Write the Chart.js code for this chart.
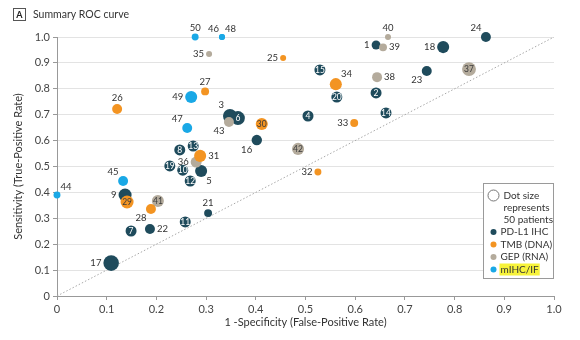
<!DOCTYPE html>
<html>
<head>
<meta charset="utf-8">
<script src="https://cdn.jsdelivr.net/npm/chart.js@4"></script>
<style>
  html, body { margin: 0; padding: 0; background: #fff; }
</style>
</head>
<body>
<canvas id="roc" width="580" height="340"></canvas>
<script>
// axis ticks
const tickValues = [0, 0.1, 0.2, 0.3, 0.4, 0.5, 0.6, 0.7, 0.8, 0.9, 1.0]

// PD-L1 IHC
const pdl1Ids = [1, 2, 3, 4, 5, 6, 7, 8, 9, 10, 11, 12, 13, 14, 15, 16, 17, 18, 19, 20, 21, 22, 23, 24]
const pdl1Fpr = [0.642, 0.642, 0.348, 0.505, 0.290, 0.364, 0.149, 0.247, 0.137, 0.253, 0.258, 0.268, 0.274, 0.662, 0.529, 0.402, 0.109, 0.777, 0.227, 0.563, 0.304, 0.187, 0.744, 0.863]
const pdl1Tpr = [0.969, 0.784, 0.695, 0.695, 0.483, 0.687, 0.251, 0.564, 0.390, 0.486, 0.286, 0.444, 0.579, 0.707, 0.873, 0.602, 0.127, 0.961, 0.502, 0.768, 0.320, 0.259, 0.869, 1.0]
const pdl1N = [33, 50, 80, 50, 60, 80, 50, 50, 70, 50, 50, 50, 50, 50, 50, 45, 100, 60, 50, 50, 26, 41, 41, 41]

// TMB (DNA)
const tmbIds = [25, 26, 27, 28, 29, 30, 31, 32, 33, 34]
const tmbFpr = [0.455, 0.121, 0.298, 0.189, 0.141, 0.412, 0.288, 0.525, 0.598, 0.561]
const tmbTpr = [0.919, 0.722, 0.790, 0.336, 0.363, 0.664, 0.541, 0.479, 0.668, 0.818]
const tmbN = [15, 41, 26, 41, 70, 60, 60, 20, 26, 60]

// GEP (RNA)
const gepIds = [35, 36, 37, 38, 39, 40, 41, 42, 43]
const gepFpr = [0.306, 0.280, 0.829, 0.644, 0.656, 0.666, 0.203, 0.485, 0.346]
const gepTpr = [0.934, 0.517, 0.876, 0.845, 0.960, 1.0, 0.367, 0.568, 0.672]
const gepN = [15, 50, 80, 41, 26, 15, 60, 60, 41]

// mIHC/IF
const mihcIds = [44, 45, 46, 47, 48, 49, 50]
const mihcFpr = [0, 0.133, 0.332, 0.262, 0.332, 0.270, 0.278]
const mihcTpr = [0.390, 0.444, 1.0, 0.649, 1.0, 0.768, 1.0]
const mihcN = [20, 41, 15, 41, 15, 60, 20]

const groupNames = ['PD-L1 IHC', 'TMB (DNA)', 'GEP (RNA)', 'mIHC/IF']
const groupColors = ['#1f4b5c', '#f39422', '#b4ab9c', '#19a8e6']
const refPatients = 50

// where each study number sits relative to its dot
const labelPos = {
  1: 'l', 2: 'in', 3: 'tl', 4: 'in', 5: 'br', 6: 'in', 7: 'in', 8: 'in', 9: 'l', 10: 'in',
  11: 'in', 12: 'in', 13: 'in', 14: 'in', 15: 'in', 16: 'bl', 17: 'l', 18: 'l', 19: 'in', 20: 'in',
  21: 't', 22: 'r', 23: 'bl', 24: 'tl', 25: 'l', 26: 't', 27: 't', 28: 'bl', 29: 'in', 30: 'in',
  31: 'r', 32: 'l', 33: 'l', 34: 'tr', 35: 'l', 36: 'l', 37: 'in', 38: 'r', 39: 'r', 40: 't',
  41: 'in', 42: 'in', 43: 'bl', 44: 'tr', 45: 'tl', 46: 'tl', 47: 'tl', 48: 'tr', 49: 'l', 50: 't',
}

const FONT = 'Lato, "Open Sans", sans-serif'
const radiusFor = n => 5.5 * Math.sqrt(n / refPatients)

const toPoints = (xs, ys) => xs.map((x, i) => ({ x: x, y: ys[i] }))

function bubbleSet (idx, ids, xs, ys, ns, order) {
  return {
    label: groupNames[idx],
    ids: ids,
    data: toPoints(xs, ys),
    pointRadius: ns.map(radiusFor),
    pointHoverRadius: ns.map(radiusFor),
    backgroundColor: groupColors[idx],
    borderColor: groupColors[idx],
    borderWidth: 0,
    order: order,
    clip: false,
    insideColor: idx === 0 ? '#ffffff' : '#3a3a3a',
  }
}

const rocDecor = {
  id: 'rocDecor',
  afterDatasetsDraw (chart) {
    const ctx = chart.ctx
    ctx.save()
    chart.data.datasets.forEach((ds, di) => {
      if (!ds.ids) return
      const meta = chart.getDatasetMeta(di)
      meta.data.forEach((pt, i) => {
        const id = ds.ids[i]
        const pos = labelPos[id] || 'r'
        const r = pt.options.radius
        const d = r * 0.7 + 1
        let x = pt.x
        let y = pt.y
        ctx.fillStyle = '#333'
        ctx.font = '9.5px ' + FONT
        ctx.textAlign = 'center'
        ctx.textBaseline = 'middle'
        if (pos === 'in') {
          ctx.fillStyle = ds.insideColor
          ctx.font = '8.5px ' + FONT
        } else if (pos === 'l') {
          x -= r + 2; ctx.textAlign = 'right'
        } else if (pos === 'r') {
          x += r + 2; ctx.textAlign = 'left'
        } else if (pos === 't') {
          y -= r + 1; ctx.textBaseline = 'bottom'
        } else if (pos === 'tl') {
          x -= d; y -= d; ctx.textAlign = 'right'; ctx.textBaseline = 'bottom'
        } else if (pos === 'tr') {
          x += d; y -= d; ctx.textAlign = 'left'; ctx.textBaseline = 'bottom'
        } else if (pos === 'bl') {
          x -= d; y += d; ctx.textAlign = 'right'; ctx.textBaseline = 'top'
        } else if (pos === 'br') {
          x += d; y += d; ctx.textAlign = 'left'; ctx.textBaseline = 'top'
        }
        ctx.fillText(String(id), x, y)
      })
    })
    ctx.restore()
  },
  afterDraw (chart) {
    const ctx = chart.ctx
    ctx.save()
    // panel title
    ctx.strokeStyle = '#555'
    ctx.lineWidth = 1
    ctx.strokeRect(13.5, 8.5, 12, 12)
    ctx.fillStyle = '#222'
    ctx.font = 'bold 9px ' + FONT
    ctx.textAlign = 'center'
    ctx.textBaseline = 'middle'
    ctx.fillText('A', 19.5, 15)
    ctx.font = '10.5px ' + FONT
    ctx.textAlign = 'left'
    ctx.fillStyle = '#333'
    ctx.fillText('Summary ROC curve', 33, 15)

    // legend box
    const bx = 483.5
    const by = 183.5
    ctx.fillStyle = '#fff'
    ctx.fillRect(bx, by, 70, 95)
    ctx.strokeStyle = '#9a9a9a'
    ctx.strokeRect(bx, by, 70, 95)
    ctx.beginPath()
    ctx.arc(bx + 10, by + 12, radiusFor(refPatients), 0, Math.PI * 2)
    ctx.strokeStyle = '#777'
    ctx.stroke()
    ctx.fillStyle = '#333'
    ctx.font = '10px ' + FONT
    ctx.textBaseline = 'middle'
    ctx.fillText('Dot size', bx + 20, by + 12)
    ctx.fillText('represents', bx + 20, by + 24)
    ctx.fillText('50 patients', bx + 20, by + 36)
    groupNames.forEach((name, i) => {
      const ly = by + 48.5 + i * 12.5
      ctx.beginPath()
      ctx.arc(bx + 10, ly, 3, 0, Math.PI * 2)
      ctx.fillStyle = groupColors[i]
      ctx.fill()
      if (i === 3) {
        const w = ctx.measureText(name).width
        ctx.fillStyle = '#f7f33a'
        ctx.fillRect(bx + 16, ly - 6, w + 2, 12)
      }
      ctx.fillStyle = '#333'
      ctx.fillText(name, bx + 17, ly)
    })
    ctx.restore()
  },
}

new Chart(document.getElementById('roc'), {
  type: 'scatter',
  data: {
    datasets: [
      bubbleSet(0, pdl1Ids, pdl1Fpr, pdl1Tpr, pdl1N, 4),
      bubbleSet(1, tmbIds, tmbFpr, tmbTpr, tmbN, 2),
      bubbleSet(2, gepIds, gepFpr, gepTpr, gepN, 3),
      bubbleSet(3, mihcIds, mihcFpr, mihcTpr, mihcN, 1),
      {
        type: 'line',
        label: 'chance',
        data: [{ x: 0, y: 0 }, { x: 1, y: 1 }],
        borderColor: '#a8a8a8',
        borderWidth: 1,
        borderDash: [1.5, 2],
        pointRadius: 0,
        order: 5,
      },
    ],
  },
  options: {
    responsive: false,
    animation: false,
    layout: { padding: { top: 37, right: 26, left: 0, bottom: 0 } },
    plugins: {
      legend: { display: false },
      tooltip: { enabled: false },
    },
    scales: {
      x: {
        type: 'linear',
        min: 0,
        max: 1,
        afterBuildTicks: scale => { scale.ticks = tickValues.map(v => ({ value: v })) },
        afterFit: scale => { scale.height = 44 },
        ticks: {
          color: '#444',
          font: { family: FONT, size: 11 },
          padding: 3,
          callback: v => v === 0 ? '0' : v.toFixed(1),
        },
        grid: { drawOnChartArea: false, color: '#999', tickLength: 4 },
        border: { color: '#999' },
        title: {
          display: true,
          text: '1 -Specificity (False-Positive Rate)',
          color: '#333',
          font: { family: FONT, size: 11 },
          padding: { top: 4, bottom: 11 },
        },
      },
      y: {
        type: 'linear',
        min: 0,
        max: 1,
        afterBuildTicks: scale => { scale.ticks = tickValues.map(v => ({ value: v })) },
        afterFit: scale => { scale.width = 57 },
        ticks: {
          color: '#444',
          font: { family: FONT, size: 11 },
          padding: 3,
          callback: v => v === 0 ? '0' : v.toFixed(1),
        },
        grid: { color: '#e3e3e3', tickColor: '#999', tickLength: 4 },
        border: { color: '#999' },
        title: {
          display: true,
          text: 'Sensitivity (True-Positive Rate)',
          color: '#333',
          font: { family: FONT, size: 11 },
          padding: { top: 12, bottom: 4 },
        },
      },
    },
  },
  plugins: [rocDecor],
})
</script>
</body>
</html>
